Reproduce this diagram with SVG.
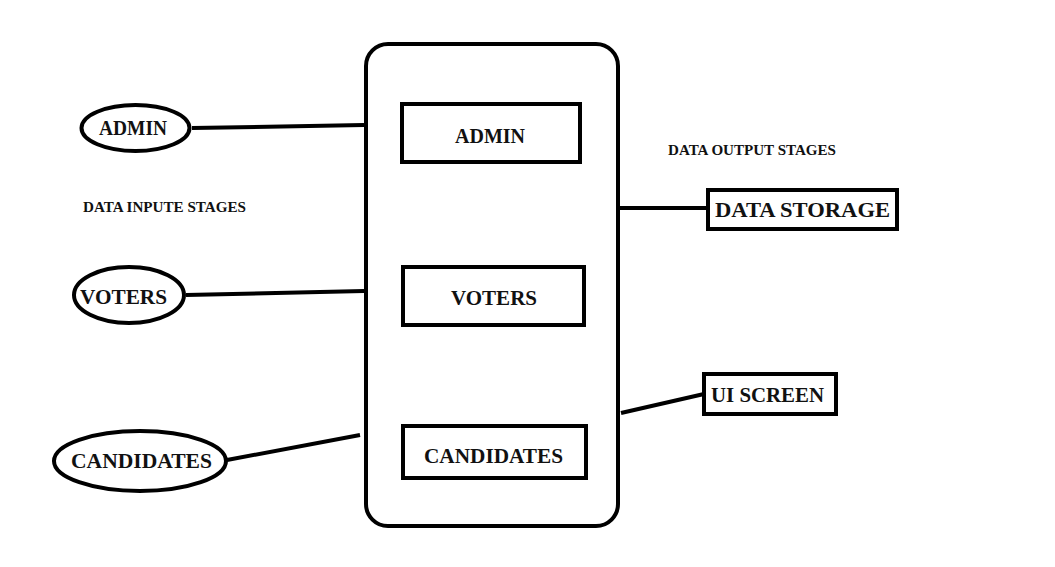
<svg xmlns="http://www.w3.org/2000/svg" width="1055" height="567" viewBox="0 0 1055 567">
<style>
.s{fill:#fff;stroke:#000;stroke-width:4}
.c{fill:none;stroke:#000;stroke-width:4;stroke-linecap:butt}
.t{font-family:"Liberation Serif","Times New Roman",serif;font-weight:bold;font-size:22px;fill:#111}
.m{font-family:"Liberation Serif","Times New Roman",serif;font-weight:bold;font-size:14px;fill:#111}
</style>
<rect width="1055" height="567" fill="#fff"/>
<g id="connectors">
<line class="c" x1="192" y1="128" x2="364" y2="125"/>
<line class="c" x1="186" y1="295" x2="364" y2="291"/>
<line class="c" x1="227" y1="460" x2="360" y2="435"/>
<line class="c" x1="619" y1="208" x2="708" y2="208"/>
<line class="c" x1="621" y1="413" x2="704" y2="394"/>
</g>
<g id="system">
<rect class="s" x="366" y="44" width="252" height="482" rx="22" ry="22"/>
</g>
<g id="admin-box">
<rect class="s" x="402" y="104" width="178" height="58"/>
<text class="t" x="455" y="143" textLength="70" lengthAdjust="spacingAndGlyphs">ADMIN</text>
</g>
<g id="voters-box">
<rect class="s" x="403" y="267" width="181" height="58"/>
<text class="t" x="451" y="305" textLength="86" lengthAdjust="spacingAndGlyphs">VOTERS</text>
</g>
<g id="candidates-box">
<rect class="s" x="403" y="426" width="183" height="52"/>
<text class="t" x="424" y="463" textLength="139" lengthAdjust="spacingAndGlyphs">CANDIDATES</text>
</g>
<g id="admin-actor">
<ellipse class="s" cx="135.5" cy="128" rx="54" ry="23"/>
<text class="t" x="99" y="135" textLength="68" lengthAdjust="spacingAndGlyphs">ADMIN</text>
</g>
<g id="voters-actor">
<ellipse class="s" cx="129" cy="295" rx="55" ry="28"/>
<text class="t" x="80" y="304" textLength="87" lengthAdjust="spacingAndGlyphs">VOTERS</text>
</g>
<g id="candidates-actor">
<ellipse class="s" cx="140" cy="461" rx="86" ry="30"/>
<text class="t" x="71" y="468" textLength="141" lengthAdjust="spacingAndGlyphs">CANDIDATES</text>
</g>
<g id="data-storage">
<rect class="s" x="708" y="190" width="189" height="39"/>
<text class="t" x="715" y="217" textLength="175" lengthAdjust="spacingAndGlyphs">DATA STORAGE</text>
</g>
<g id="ui-screen">
<rect class="s" x="704" y="374" width="132" height="40"/>
<text class="t" x="711" y="402" textLength="113" lengthAdjust="spacingAndGlyphs">UI SCREEN</text>
</g>
<g id="labels">
<text class="m" x="83" y="212" textLength="163" lengthAdjust="spacingAndGlyphs">DATA INPUTE STAGES</text>
<text class="m" x="668" y="155" textLength="168" lengthAdjust="spacingAndGlyphs">DATA OUTPUT STAGES</text>
</g>
</svg>
